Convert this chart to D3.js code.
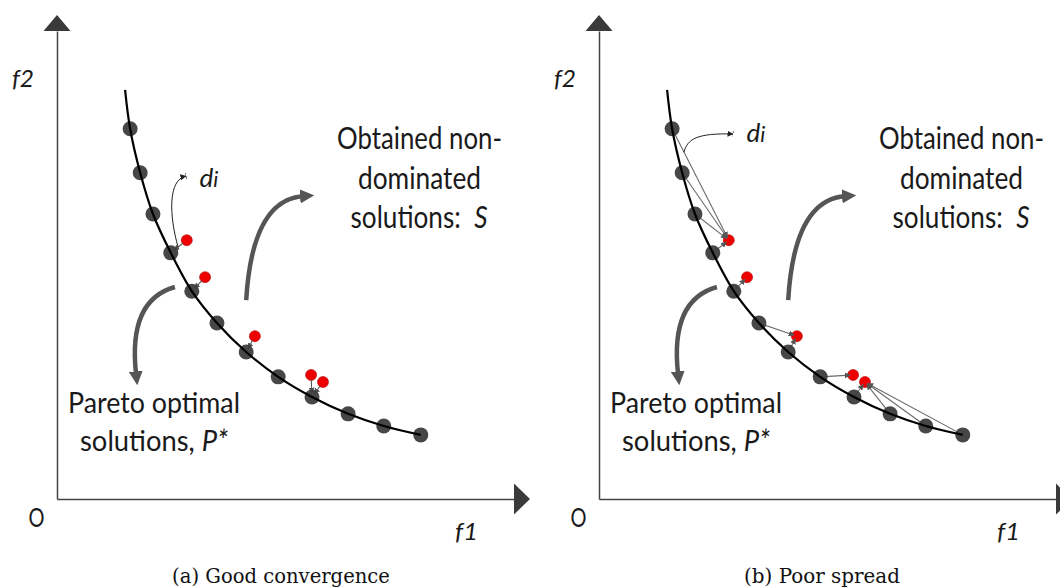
<!DOCTYPE html>
<html>
<head>
<meta charset="utf-8">
<script src="https://cdn.jsdelivr.net/npm/d3@7"></script>
<style>
  html, body { margin: 0; padding: 0; background: #fff; }
  svg { display: block; }
  .lbl { font-family: Lato, "Open Sans", sans-serif; fill: #1a1a1a; }
  .cap { font-family: "DejaVu Serif", "Liberation Serif", serif; fill: #111; }
</style>
</head>
<body>
<svg id="fig" width="1060" height="588"></svg>
<script>
// Pareto-optimal front P* (f1, f2)
const frontF1 = [1.60, 1.82, 2.10, 2.49, 2.95, 3.50, 4.14, 4.84, 5.58, 6.37, 7.15, 7.96];
const frontF2 = [7.91, 6.97, 6.09, 5.26, 4.44, 3.76, 3.14, 2.61, 2.18, 1.82, 1.56, 1.37];
// upper end of the drawn front curve
const curveStart = [1.49, 8.74];

// obtained non-dominated solutions S (f1, f2)
const solF1 = [2.84, 3.24, 4.33, 5.56, 5.82];
const solF2 = [5.53, 4.74, 3.48, 2.65, 2.50];

// (a) each solution -> index of its nearest point of P*
const convergenceLinks = [3, 4, 6, 8, 8];
// (b) each point of P* -> index of its nearest solution in S
const spreadLinks = [0, 0, 0, 0, 1, 2, 2, 3, 4, 4, 4, 4];

const panelCaptions = ["(a)  Good convergence", "(b)  Poor spread"];
const panelOffsets = [0, 542];

const svg = d3.select("#fig");

// arrowhead markers
const defs = svg.append("defs");
defs.append("marker").attr("id", "thinHead")
  .attr("viewBox", "0 0 10 10").attr("refX", 9).attr("refY", 5)
  .attr("markerWidth", 6).attr("markerHeight", 6)
  .attr("markerUnits", "userSpaceOnUse").attr("orient", "auto")
  .append("path").attr("d", "M0,0 L10,5 L0,10 Z").attr("fill", "#555");
defs.append("marker").attr("id", "diHead")
  .attr("viewBox", "0 0 10 10").attr("refX", 9).attr("refY", 5)
  .attr("markerWidth", 6).attr("markerHeight", 7)
  .attr("markerUnits", "userSpaceOnUse").attr("orient", "auto")
  .append("path").attr("d", "M0,0 L10,5 L0,10 Z M9,0 L10,0 L10,10 L9,10 Z").attr("fill", "#222");
defs.append("marker").attr("id", "thickHead")
  .attr("viewBox", "0 0 10 10").attr("refX", 2).attr("refY", 5)
  .attr("markerWidth", 14).attr("markerHeight", 14)
  .attr("markerUnits", "userSpaceOnUse").attr("orient", "auto")
  .append("path").attr("d", "M0,0 L10,5 L0,10 Z").attr("fill", "#555");

const x = d3.scaleLinear().domain([0, 10]).range([57, 514]);
const y = d3.scaleLinear().domain([0, 10]).range([499, 31]);

const front = frontF1.map((f1, i) => ({ f1, f2: frontF2[i] }));
const sols = solF1.map((f1, i) => ({ f1, f2: solF2[i] }));

// shorten a segment a->b at both ends by the given pixel amounts
function trimmed(a, b, startCut, endCut) {
  const dx = b[0] - a[0], dy = b[1] - a[1];
  const len = Math.hypot(dx, dy);
  const ux = dx / len, uy = dy / len;
  return [[a[0] + ux * startCut, a[1] + uy * startCut],
          [b[0] - ux * endCut, b[1] - uy * endCut]];
}
const P = d => [x(d.f1), y(d.f2)];

// squeeze a text horizontally so it spans the given width
function fitText(sel, cx, baseline, width) {
  sel.attr("x", 0).attr("y", 0).attr("text-anchor", "middle");
  const w = sel.node().getBBox().width;
  sel.attr("transform", `translate(${cx},${baseline}) scale(${width / w},1)`);
}

function drawPanel(idx) {
  const g = svg.append("g").attr("transform", `translate(${panelOffsets[idx]},0)`);

  // axes without ticks
  g.append("g").attr("transform", `translate(0,${y(0)})`)
    .call(d3.axisBottom(x).tickValues([]).tickSizeOuter(0))
    .select(".domain").attr("stroke", "#444").attr("stroke-width", 1.5);
  g.append("g").attr("transform", `translate(${x(0)},0)`)
    .call(d3.axisLeft(y).tickValues([]).tickSizeOuter(0))
    .select(".domain").attr("stroke", "#444").attr("stroke-width", 1.5);
  // axis arrowheads
  const xe = x(10), ye = y(0), xo = x(0), yt = y(10);
  g.append("path").attr("fill", "#3a3a3a")
    .attr("d", `M${xe},${ye - 15.5} L${xe + 16},${ye} L${xe},${ye + 15.5} Z`);
  g.append("path").attr("fill", "#3a3a3a")
    .attr("d", `M${xo - 13.5},${yt} L${xo},${yt - 16} L${xo + 13.5},${yt} Z`);

  // solutions S
  g.selectAll("circle.sol").data(sols).join("circle").attr("class", "sol")
    .attr("cx", d => x(d.f1)).attr("cy", d => y(d.f2)).attr("r", 5.5)
    .attr("fill", "#ee0000").attr("stroke", "#b00000").attr("stroke-width", 0.6);

  // distance links
  const segs = idx === 0
    ? convergenceLinks.map((j, i) => trimmed(P(sols[i]), P(front[j]), 5, 4))
    : spreadLinks.map((j, i) => trimmed(P(front[i]), P(sols[j]), 0, 3));
  g.selectAll("line.link").data(segs).join("line").attr("class", "link")
    .attr("x1", d => d[0][0]).attr("y1", d => d[0][1])
    .attr("x2", d => d[1][0]).attr("y2", d => d[1][1])
    .attr("stroke", idx === 0 ? "#555" : "#6a6a6a").attr("stroke-width", 1.1)
    .attr("marker-end", "url(#thinHead)");

  // Pareto points P*
  g.selectAll("circle.front").data(front).join("circle").attr("class", "front")
    .attr("cx", d => x(d.f1)).attr("cy", d => y(d.f2)).attr("r", 7.5)
    .attr("fill", "#3d3d3d").attr("opacity", 0.95);

  // the true front as a smooth curve
  const line = d3.line().x(d => x(d[0])).y(d => y(d[1])).curve(d3.curveCatmullRom.alpha(0.5));
  g.append("path")
    .attr("d", line([curveStart].concat(front.map(d => [d.f1, d.f2]))))
    .attr("fill", "none").attr("stroke", "#000").attr("stroke-width", 2.2);

  // thick pointer arrows
  const upArrow = [[4.14, 4.25], [4.27, 6.39], [5.38, 6.47]];
  const downArrow = [[2.58, 4.53], [1.55, 4.25], [1.73, 2.67]];
  [upArrow, downArrow].forEach(a => {
    g.append("path")
      .attr("d", `M${x(a[0][0])},${y(a[0][1])} Q${x(a[1][0])},${y(a[1][1])} ${x(a[2][0])},${y(a[2][1])}`)
      .attr("fill", "none").attr("stroke", "#555").attr("stroke-width", 4.5)
      .attr("marker-end", "url(#thickHead)");
  });

  // d_i pointer
  const di = idx === 0
    ? [[2.65, 5.38], [2.45, 6.07], [2.43, 6.82], [2.82, 6.90]]
    : [[1.86, 7.41], [1.93, 7.69], [2.14, 7.82], [2.93, 7.80]];
  g.append("path")
    .attr("d", `M${x(di[0][0])},${y(di[0][1])} C${x(di[1][0])},${y(di[1][1])} ${x(di[2][0])},${y(di[2][1])} ${x(di[3][0])},${y(di[3][1])}`)
    .attr("fill", "none").attr("stroke", "#222").attr("stroke-width", 1)
    .attr("marker-end", "url(#diHead)");

  // labels
  const t = (size, italic) => g.append("text").attr("class", "lbl")
    .attr("font-size", size).attr("font-style", italic ? "italic" : "normal");

  fitText(t(24, true).text("f2"), 23, 87, 22);
  fitText(t(26, false).text("O"), 36.5, 527, 16);
  fitText(t(24, true).text("f1"), 466.5, 540, 23);

  const diText = t(25, true);
  diText.append("tspan").text("d");
  diText.append("tspan").attr("font-size", 21).text("i");
  fitText(diText, idx === 0 ? 209 : 214, idx === 0 ? 187 : 142, 19);

  fitText(t(30, false).text("Obtained non-"), 419.5, 149, 165);
  fitText(t(30, false).text("dominated"), 419.5, 189, 123);
  const sText = t(30, false);
  sText.append("tspan").text("solutions:\u00a0\u00a0");
  sText.append("tspan").attr("font-style", "italic").text("S");
  fitText(sText, 419, 228, 137);

  fitText(t(29, false).text("Pareto optimal"), 154, 413, 172);
  const pText = t(29, false);
  pText.append("tspan").text("solutions, ");
  pText.append("tspan").attr("font-style", "italic").text("P*");
  fitText(pText, 154, 451, 148);

  // caption
  const cap = g.append("text").attr("class", "cap").attr("font-size", 19.5).text(panelCaptions[idx]);
  fitText(cap, idx === 0 ? 281 : 280, 583, idx === 0 ? 218 : 156);
}

(document.fonts ? document.fonts.ready : Promise.resolve()).then(() => {
  drawPanel(0);
  drawPanel(1);
});
</script>
</body>
</html>
